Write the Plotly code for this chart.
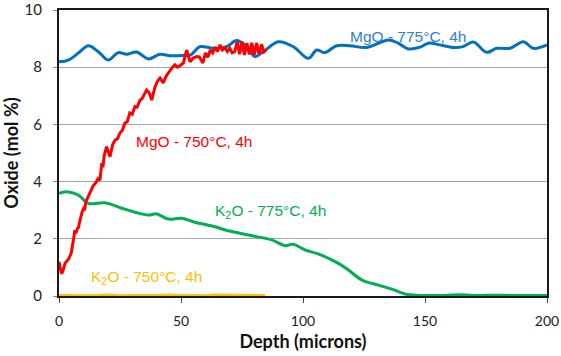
import plotly.graph_objects as go

# MgO 775°C, 4h (blue)
mgo775_x = [0, 3.8, 8, 12, 16, 20.2, 24.3, 27.7, 31.8, 36.6, 41.4, 45.5, 51, 54, 57.8, 63.2, 68.7, 72.8,
            76.9, 80.3, 83.7, 89.9, 96, 102.2, 105.6, 109, 113.8, 119.3, 126.1, 135, 139, 143.2, 148,
            151.4, 156.1, 161.6, 165.5, 169.8, 175.3, 179.4, 184.8, 190.3, 194.4, 200]
mgo775_y = [8.19, 8.25, 8.5, 8.75, 8.55, 8.25, 8.51, 8.45, 8.53, 8.29, 8.45, 8.4, 8.41, 8.43, 8.72, 8.66,
            8.72, 8.93, 8.72, 8.37, 8.54, 8.89, 8.72, 8.31, 8.6, 8.51, 8.75, 8.75, 8.69, 8.95, 8.84, 8.64,
            8.7, 8.84, 8.78, 8.69, 8.72, 8.88, 8.52, 8.66, 8.66, 8.89, 8.66, 8.78]

# MgO 750°C, 4h (red)
mgo750_x = [0, 0.5, 1, 1.5, 2, 2.5, 3, 4, 5, 5.5, 6, 6.5, 7, 7.5, 8, 8.5, 9, 9.5, 10, 10.5, 11, 12, 13,
            14, 15, 16, 16.8, 17.5, 18, 18.5, 19.5, 20.2, 20.9, 22, 23, 24, 25, 26, 27, 28, 29, 30, 31.1,
            32, 33.2, 34, 35, 35.9, 37, 38, 39.3, 40.3, 41.4, 42.7, 44, 45.5, 46.5, 47.5, 48.5, 49.6,
            51, 52.3, 53.7, 55, 56.4, 57.5, 59, 60, 61, 62, 63, 64, 65, 66, 67, 68, 69, 70, 71, 72,
            73, 74, 75, 76, 77, 78, 79, 80, 81, 82, 83, 84, 85]
mgo750_y = [1.2, 0.95, 0.78, 0.85, 1.05, 1.15, 1.2, 1.3, 1.5, 1.85, 2.0, 2.3, 2.2, 2.35, 2.4, 2.6, 2.85,
            2.95, 3.05, 3.0, 3.3, 3.5, 3.65, 3.85, 3.95, 4.1, 4.05, 4.64, 4.5, 4.9, 5.22, 5.0, 4.87, 5.3,
            5.45, 5.5, 5.7, 5.8, 6.04, 6.1, 6.4, 6.35, 6.62, 6.6, 6.85, 6.9, 7.05, 7.2, 7.1, 6.85, 7.3,
            7.5, 7.62, 7.45, 7.7, 7.9, 8.0, 8.08, 8.0, 8.05, 8.15, 8.6, 8.19, 8.32, 8.37, 8.36, 8.15,
            8.5, 8.35, 8.6, 8.5, 8.7, 8.55, 8.78, 8.6, 8.68, 8.55, 8.66, 8.5, 8.54, 8.89, 8.45, 8.9,
            8.43, 8.84, 8.45, 8.85, 8.43, 8.84, 8.45, 8.8, 8.54, 8.6]

# K2O 775°C, 4h (green)
k2o775_x = [0, 3.8, 7.9, 12, 18.9, 25.7, 31.1, 36.6, 40, 44.8, 50.3, 55.7, 63.9, 69.4, 77.6, 87.2,
            92.6, 96, 100.8, 106.3, 114.5, 118.6, 124.1, 130.9, 136.4, 141.8, 147.3, 155, 165, 172,
            178, 186, 193, 200]
k2o775_y = [3.59, 3.64, 3.53, 3.24, 3.26, 3.07, 2.93, 2.83, 2.87, 2.69, 2.72, 2.58, 2.42, 2.28, 2.13,
            1.96, 1.76, 1.81, 1.61, 1.47, 1.14, 0.91, 0.56, 0.38, 0.24, 0.07, 0.02, 0.02, 0.04, 0.02,
            0.03, 0.02, 0.02, 0.02]

# K2O 750°C, 4h (yellow)
k2o750_x = [0, 5, 10, 15, 20, 25, 30, 35, 40, 45, 50, 55, 60, 65, 70, 75, 80, 84.5]
k2o750_y = [0.03, 0.02, 0.03, 0.02, 0.04, 0.02, 0.03, 0.02, 0.03, 0.04, 0.02, 0.03, 0.02, 0.04, 0.03,
            0.02, 0.03, 0.03]

x_ticks = [0, 50, 100, 150, 200]
y_ticks = [0, 2, 4, 6, 8, 10]

fig = go.Figure()
fig.add_trace(go.Scatter(x=k2o750_x, y=k2o750_y, mode="lines",
                         line=dict(color="#FFC000", width=2.5), hoverinfo="skip"))
fig.add_trace(go.Scatter(x=k2o775_x, y=k2o775_y, mode="lines", line_shape="spline",
                         line=dict(color="#00B050", width=3), hoverinfo="skip"))
fig.add_trace(go.Scatter(x=mgo775_x, y=mgo775_y, mode="lines", line_shape="spline",
                         line=dict(color="#0070C0", width=3), hoverinfo="skip"))
fig.add_trace(go.Scatter(x=mgo750_x, y=mgo750_y, mode="lines",
                         line=dict(color="#FF0000", width=3), hoverinfo="skip"))

ann_font = "Liberation Sans, Arial, sans-serif"
annots = [
    ("MgO - 775°C, 4h", 143, 9.09, "#2E7FD0"),
    ("MgO - 750°C, 4h", 55.3, 5.4, "#FF0000"),
    ("K<sub>2</sub>O - 775°C, 4h", 86.5, 2.94, "#00B050"),
    ("K<sub>2</sub>O - 750°C, 4h", 35.9, 0.66, "#FFC000"),
]
for text, ax, ay, col in annots:
    fig.add_annotation(x=ax, y=ay, text=text, showarrow=False,
                       font=dict(family=ann_font, size=15.5, color=col))

fig.update_layout(
    width=561, height=356,
    margin=dict(l=59, r=14, t=10, b=60, autoexpand=False),
    paper_bgcolor="white", plot_bgcolor="white",
    showlegend=False, hovermode=False,
    font=dict(family="Lato, Liberation Sans, sans-serif", color="#222"),
)
fig.update_xaxes(
    range=[0, 200], tickvals=x_ticks, ticktext=[str(v) for v in x_ticks],
    showgrid=False, zeroline=False, automargin=False,
    showline=True, mirror=True, linecolor="#1a1a1a", linewidth=2,
    ticks="outside", ticklen=5, tickcolor="#444", tickwidth=1,
    ticklabelstandoff=6,
    tickfont=dict(size=14, color="#222"),
    title=dict(text="<b>Depth (microns)</b>", font=dict(size=18, color="#111"), standoff=8),
)
fig.update_yaxes(
    range=[0, 10], tickvals=y_ticks, ticktext=[str(v) for v in y_ticks],
    showgrid=True, gridcolor="#A6A6A6", gridwidth=1, zeroline=False, automargin=False,
    showline=True, mirror=True, linecolor="#1a1a1a", linewidth=2,
    ticks="outside", ticklen=4, tickcolor="#888", tickwidth=1,
    ticklabelstandoff=8,
    tickfont=dict(size=15, color="#222"),
    title=dict(text="<b>Oxide (mol %)</b>", font=dict(size=18, color="#111"), standoff=6),
)

fig.write_html("out.html", config={"displayModeBar": False, "staticPlot": True},
               post_script="document.body.style.margin='0px';")
